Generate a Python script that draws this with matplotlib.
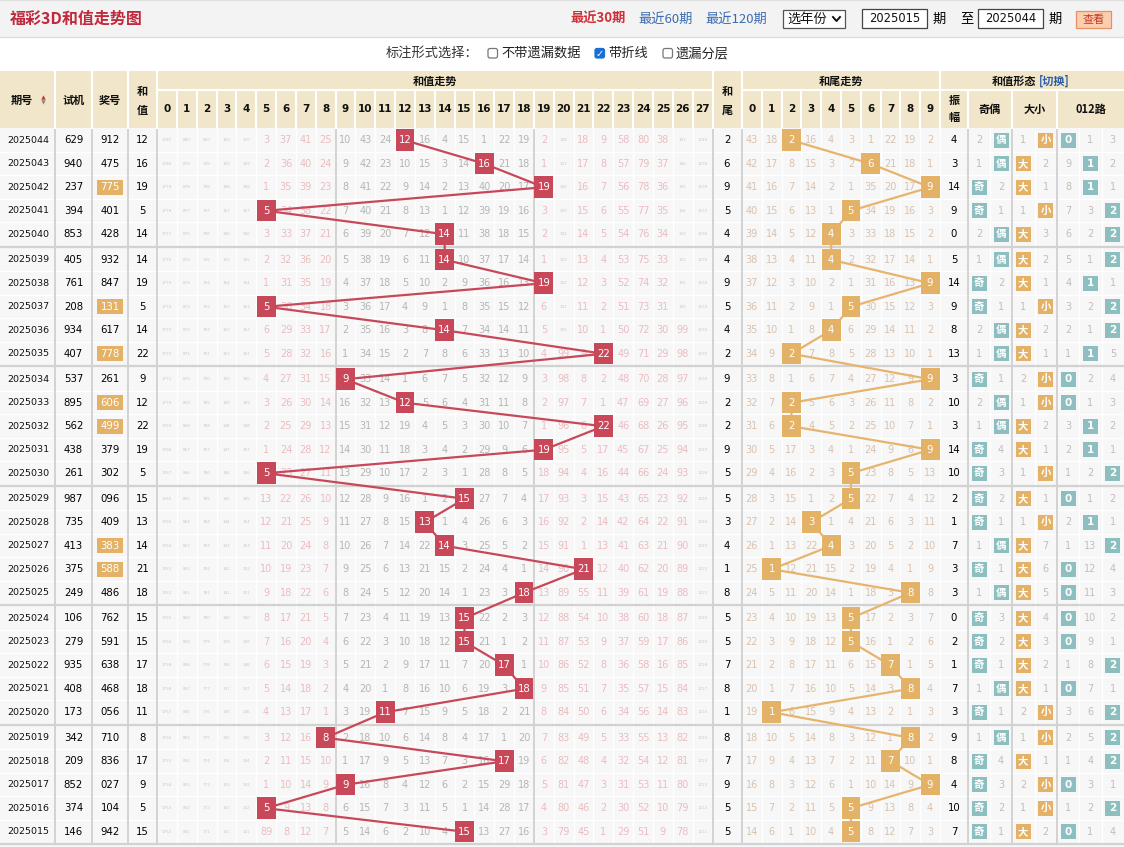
import numpy as np
import matplotlib.pyplot as plt
from matplotlib.patches import Rectangle, FancyBboxPatch

plt.rcParams['font.family'] = ['DejaVu Sans', 'Noto Sans CJK SC']

# ---- data (newest first) ----
periods = ['2025044', '2025043', '2025042', '2025041', '2025040',
           '2025039', '2025038', '2025037', '2025036', '2025035',
           '2025034', '2025033', '2025032', '2025031', '2025030',
           '2025029', '2025028', '2025027', '2025026', '2025025',
           '2025024', '2025023', '2025022', '2025021', '2025020',
           '2025019', '2025018', '2025017', '2025016', '2025015']
trial = ['629', '940', '237', '394', '853', '405', '761', '208', '934', '407',
         '537', '895', '562', '438', '261', '987', '735', '413', '375', '249',
         '106', '279', '935', '408', '173', '342', '209', '852', '374', '146']
draw = ['912', '475', '775', '401', '428', '932', '847', '131', '617', '778',
        '261', '606', '499', '379', '302', '096', '409', '383', '588', '486',
        '762', '591', '638', '468', '056', '710', '836', '027', '104', '942']
sums = [12, 16, 19, 5, 14, 14, 19, 5, 14, 22,
        9, 12, 22, 19, 5, 15, 13, 14, 21, 18,
        15, 15, 17, 18, 11, 8, 17, 9, 5, 15]
tails = [2, 6, 9, 5, 4, 4, 9, 5, 4, 2,
         9, 2, 2, 9, 5, 5, 3, 4, 1, 8,
         5, 5, 7, 8, 1, 8, 7, 9, 5, 5]
amplitude = [4, 3, 14, 9, 0, 5, 14, 9, 8, 13,
             3, 10, 3, 14, 10, 2, 1, 7, 3, 3,
             0, 2, 1, 7, 3, 9, 8, 4, 10, 7]

# omission counts shown on the oldest row (2025015), 0 = hit
sum_base = [1752, 851, 771, 131, 141, 89, 8, 12, 7, 5, 14, 6, 2, 10, 4, 0,
            13, 27, 16, 3, 79, 45, 1, 29, 51, 9, 78, 1211]
tail_base = [14, 6, 1, 10, 4, 0, 8, 12, 7, 3]
oe_base = [0, 1]
bs_base = [0, 2]
route_base = [0, 1, 4]

N = len(sums)


def omissions(hit_idx, base):
    out = np.zeros((N, len(base)), dtype=int)
    out[-1] = base
    for r in range(N - 2, -1, -1):
        out[r] = out[r + 1] + 1
        out[r, hit_idx[r]] = 0
    return out


oe_hit = [0 if s % 2 else 1 for s in sums]
bs_hit = [0 if s >= 14 else 1 for s in sums]
route_hit = [s % 3 for s in sums]

sum_om = omissions(sums, sum_base)
tail_om = omissions(tails, tail_base)
oe_om = omissions(oe_hit, oe_base)
bs_om = omissions(bs_hit, bs_base)
route_om = omissions(route_hit, route_base)

# ---- layout ----
RED = '#c8485a'
ORANGE = '#e3b266'
TEAL = '#8dbfc0'
HEAD = '#f1e6c9'
SEP = '#d2d2d2'

Y0, ROW_H, GROUP_H = 128.5, 23.5, 119.5
SUM_X0, SUM_W = 157.0, 19.84
TAIL_X0, TAIL_W = 742.0, 19.8
form_edges = [968, 990, 1012, 1034.5, 1057, 1079.3, 1101.7, 1124]


def row_top(r):
    return Y0 + (r // 5) * GROUP_H + (r % 5) * ROW_H


def row_y(r):
    return row_top(r) + ROW_H / 2


sum_cx = SUM_X0 + (np.arange(28) + 0.5) * SUM_W
tail_cx = TAIL_X0 + (np.arange(10) + 0.5) * TAIL_W
form_cx = [(form_edges[i] + form_edges[i + 1]) / 2 for i in range(7)]

fig = plt.figure(figsize=(11.24, 8.47), dpi=100)
ax = fig.add_axes([0, 0, 1, 1])
ax.set_xlim(0, 1124)
ax.set_ylim(847, 0)
ax.axis('off')

# ---- top bars ----
ax.add_patch(Rectangle((0, 0), 1124, 37, fc='#f3f3f3', ec='none'))
ax.plot([0, 1124], [37, 37], color='#dcdcdc', lw=1)
ax.plot([0, 1124], [0.5, 0.5], color='#e0e0e0', lw=1)
ax.text(10, 19, '福彩3D和值走势图', color='#c0283c', fontsize=11.5,
        fontweight='bold', va='center', family=['Noto Sans CJK SC'])
ax.text(570, 19, '最近30期', color='#d03038', fontsize=9.5, fontweight='bold',
        va='center', family=['Noto Sans CJK SC'])
ax.text(638, 19, '最近60期', color='#3a6cb0', fontsize=9.5, va='center',
        family=['Noto Sans CJK SC'])
ax.text(705, 19, '最近120期', color='#3a6cb0', fontsize=9.5, va='center',
        family=['Noto Sans CJK SC'])
ax.add_patch(Rectangle((783, 10), 62, 18, fc='white', ec='#555555', lw=0.9))
ax.text(787, 19, '选年份', fontsize=9.5, va='center', color='#111',
        family=['Noto Sans CJK SC'])
ax.plot([833, 836.5, 840], [17, 21, 17], color='#111', lw=1.4)
for x0, label in [(862, '2025015'), (978, '2025044')]:
    ax.add_patch(Rectangle((x0, 9.5), 65, 19, fc='white', ec='#444444', lw=0.9))
    ax.text(x0 + 32.5, 19, label, fontsize=8.3, ha='center', va='center', color='#111')
ax.text(939, 19, '期', fontsize=9.5, ha='center', va='center', family=['Noto Sans CJK SC'])
ax.text(967, 19, '至', fontsize=9.5, ha='center', va='center', family=['Noto Sans CJK SC'])
ax.text(1055, 19, '期', fontsize=9.5, ha='center', va='center', family=['Noto Sans CJK SC'])
ax.add_patch(Rectangle((1076, 11), 35, 17, fc='#fbcfae', ec='#e58f66', lw=0.9))
ax.text(1093.5, 19.5, '查看', fontsize=8, ha='center', va='center', color='#c0392b',
        family=['Noto Sans CJK SC'])

ax.text(386, 53.5, '标注形式选择：', fontsize=9.5, va='center', color='#333',
        family=['Noto Sans CJK SC'])
for bx, checked, label in [(488, False, '不带遗漏数据'), (595, True, '带折线'),
                           (663, False, '遗漏分层')]:
    ax.add_patch(FancyBboxPatch((bx, 48.5), 9.5, 9.5, boxstyle='round,pad=0,rounding_size=2',
                                fc='#1a6fd6' if checked else 'white',
                                ec='#1a6fd6' if checked else '#777777', lw=0.9))
    if checked:
        ax.text(bx + 4.8, 53.5, '✓', color='white', fontsize=7, ha='center',
                va='center', fontweight='bold')
    ax.text(bx + 13, 53.5, label, fontsize=9.5, va='center', color='#222',
            family=['Noto Sans CJK SC'])

# ---- header ----
ax.add_patch(Rectangle((0, 71), 1124, Y0 - 71, fc=HEAD, ec='none'))
HW = dict(color='white', lw=1.5)
ax.plot([SUM_X0, 712.5], [90.5, 90.5], **HW)
ax.plot([TAIL_X0, 1124], [90.5, 90.5], **HW)
for x in [55, 92, 128, SUM_X0, 712.5, TAIL_X0, 940]:
    ax.plot([x, x], [71, Y0], **HW)
for i in range(1, 28):
    ax.plot([SUM_X0 + i * SUM_W] * 2, [90.5, Y0], **HW)
for i in range(1, 10):
    ax.plot([TAIL_X0 + i * TAIL_W] * 2, [90.5, Y0], **HW)
for x in [968, 1012, 1057]:
    ax.plot([x, x], [90.5, Y0], **HW)

hk = dict(fontsize=8, fontweight='bold', ha='center', va='center', color='#111',
          family=['Noto Sans CJK SC'])
ax.text(22, 100, '期号', **hk)
ax.plot([43], [97.5], marker='^', ms=3.2, color='#d03038', mec='none')
ax.plot([43], [102.5], marker='v', ms=3.2, color='#888888', mec='none')
ax.text(73.5, 100, '试机', **hk)
ax.text(110, 100, '奖号', **hk)
ax.text(142.5, 91, '和', **hk)
ax.text(142.5, 110, '值', **hk)
ax.text(727, 91, '和', **hk)
ax.text(727, 110, '尾', **hk)
ax.text(435, 81, '和值走势', **hk)
ax.text(841, 81, '和尾走势', **hk)
ax.text(1036, 81, '和值形态', **{**hk, 'ha': 'right'})
ax.text(1039, 81, '[切换]', **{**hk, 'ha': 'left', 'color': '#2a5caa'})
ax.text(954, 100, '振', **hk)
ax.text(954, 118, '幅', **hk)
ax.text(990, 109, '奇偶', **hk)
ax.text(1034.5, 109, '大小', **hk)
ax.text(1090.5, 109, '012路', **hk)
nk = dict(fontsize=7.5, fontweight='bold', ha='center', va='center', color='#111')
for i in range(28):
    ax.text(sum_cx[i], 109, str(i), **nk)
for i in range(10):
    ax.text(tail_cx[i], 109, str(i), **nk)

# ---- table body ----
ax.add_patch(Rectangle((0, Y0), 1124, 847 - Y0, fc='#f7f7f7', ec='none', zorder=0))
body_bottom = row_top(N - 1) + ROW_H
for r in range(N):
    if r % 5 != 4:
        yb = row_top(r) + ROW_H
        ax.plot([0, 1124], [yb, yb], color='white', lw=1, zorder=1)
v_edges = ([55, 92, 128] + [SUM_X0 + i * SUM_W for i in range(29)]
           + [TAIL_X0 + i * TAIL_W for i in range(11)] + form_edges[:-1])
for x in v_edges:
    ax.plot([x, x], [Y0, body_bottom], color='white', lw=1, zorder=1)
for x in [55, 92, 128, SUM_X0, SUM_X0 + 9 * SUM_W, SUM_X0 + 19 * SUM_W, 712.5,
          TAIL_X0, 968, 1012, 1057]:
    ax.plot([x, x], [Y0, body_bottom], color=SEP, lw=1.4, zorder=1)
for g in range(6):
    yb = Y0 + (g + 1) * GROUP_H - 1
    ax.plot([0, 1124], [yb, yb], color=SEP, lw=1.6, zorder=1)

tk = dict(ha='center', va='center', zorder=5)
for r in range(N):
    y = row_y(r)
    ax.text(28, y, periods[r], fontsize=6.8, color='#111', **tk)
    ax.text(73.5, y, trial[r], fontsize=7.3, color='#000', **tk)
    d = draw[r]
    if len(set(d)) < 3:
        ax.add_patch(Rectangle((97, y - 7.5), 26, 15, fc=ORANGE, ec='none', zorder=4))
        ax.text(110, y, d, fontsize=7.3, color='white', **tk)
    else:
        ax.text(110, y, d, fontsize=7.3, color='#000', **tk)
    ax.text(142.5, y, str(sums[r]), fontsize=7.3, color='#000', **tk)
    ax.text(727, y, str(tails[r]), fontsize=7.3, color='#000', **tk)
    ax.text(954, y, str(amplitude[r]), fontsize=7.3, color='#000', **tk)

    # sum omission cells
    for c in range(28):
        v = sum_om[r, c]
        if v == 0:
            ax.add_patch(Rectangle((sum_cx[c] - 9.4, row_top(r) + 1), 18.8, ROW_H - 2,
                                   fc=RED, ec='none', zorder=4))
            ax.text(sum_cx[c], y, str(sums[r]), fontsize=7.3, color='white', **tk)
        elif v >= 100:
            ax.text(sum_cx[c], y, str(v), fontsize=3, color='#c9c9c9',
                    ha='center', va='center', zorder=2)
        else:
            col = '#b5b5b5' if 9 <= c <= 18 else '#ebbcc0'
            ax.text(sum_cx[c], y, str(v), fontsize=7, color=col,
                    ha='center', va='center', zorder=2)
    # tail omission cells
    for c in range(10):
        v = tail_om[r, c]
        if v == 0:
            ax.add_patch(Rectangle((tail_cx[c] - 9.4, row_top(r) + 1), 18.8, ROW_H - 2,
                                   fc=ORANGE, ec='none', zorder=4))
            ax.text(tail_cx[c], y, str(c), fontsize=7.3, color='white', **tk)
        else:
            ax.text(tail_cx[c], y, str(v), fontsize=7, color='#d9c2ae',
                    ha='center', va='center', zorder=2)
    # form cells
    groups = [(oe_om, ['奇', '偶'], TEAL, 0), (bs_om, ['大', '小'], ORANGE, 2),
              (route_om, ['0', '1', '2'], TEAL, 4)]
    for om, labels, colr, start in groups:
        for k, lab in enumerate(labels):
            cx = form_cx[start + k]
            v = om[r, k]
            if v == 0:
                ax.add_patch(Rectangle((cx - 7.5, y - 7.5), 15, 15, fc=colr,
                                       ec='none', zorder=4))
                ax.text(cx, y, lab, fontsize=7.5, color='white', fontweight='bold',
                        family=['DejaVu Sans', 'Noto Sans CJK SC'], **tk)
            else:
                ax.text(cx, y, str(v), fontsize=7, color='#c6bdb4',
                        ha='center', va='center', zorder=2)

# trend lines through the hit cells
ys = [row_y(r) for r in range(N)]
ax.plot(sum_cx[sums], ys, color=RED, lw=1.6, zorder=3, solid_capstyle='round')
ax.plot(tail_cx[tails], ys, color='#e7b46e', lw=1.6, zorder=3, solid_capstyle='round')

fig.savefig('out.png', dpi=100)
